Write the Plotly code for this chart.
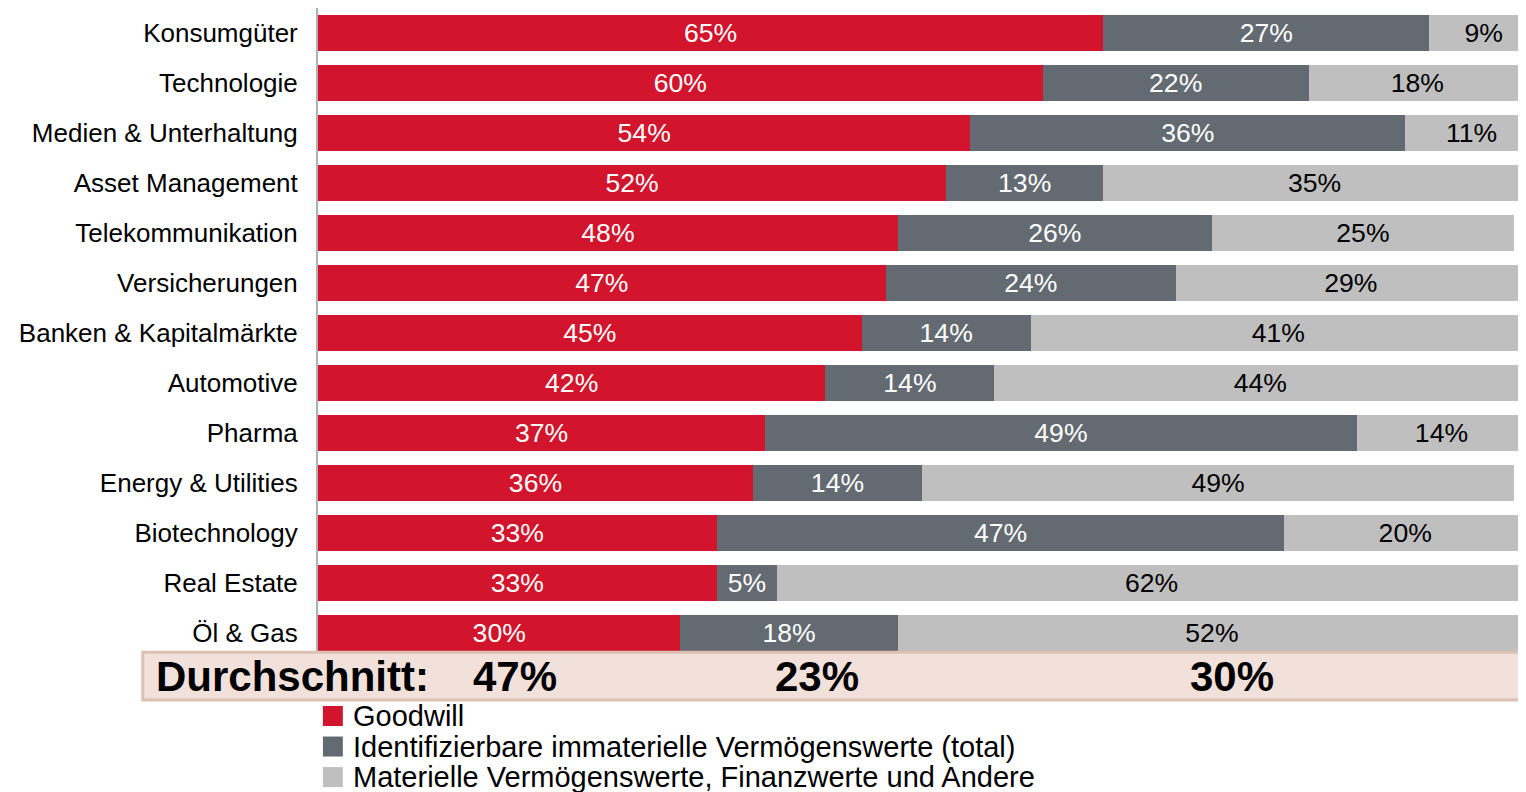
import plotly.graph_objects as go

# Branchen (oben nach unten)
branchen = [
    "Konsumgüter", "Technologie", "Medien & Unterhaltung", "Asset Management",
    "Telekommunikation", "Versicherungen", "Banken & Kapitalmärkte", "Automotive",
    "Pharma", "Energy & Utilities", "Biotechnology", "Real Estate", "Öl & Gas",
]
goodwill = [65, 60, 54, 52, 48, 47, 45, 42, 37, 36, 33, 33, 30]
immateriell = [27, 22, 36, 13, 26, 24, 14, 14, 49, 14, 47, 5, 18]
materiell = [9, 18, 11, 35, 25, 29, 41, 44, 14, 49, 20, 62, 52]
durchschnitt = [47, 23, 30]

serien = [
    ("Goodwill", goodwill, "#d2142c", "white"),
    ("Identifizierbare immaterielle Vermögenswerte (total)", immateriell, "#636a71", "white"),
    ("Materielle Vermögenswerte, Finanzwerte und Andere", materiell, "#bfbfbf", "black"),
]

FONT = "Liberation Sans, Arial, sans-serif"

fig = go.Figure()
for name, werte, farbe, textfarbe in serien:
    fig.add_trace(go.Bar(
        y=branchen, x=werte, name=name, orientation="h",
        marker=dict(color=farbe, line=dict(width=0)),
        text=[f"{v}%" for v in werte],
        textposition="inside", insidetextanchor="middle",
        textfont=dict(color=textfarbe, size=31, family=FONT),
        hovertemplate="%{y}: %{x}%<extra>" + name + "</extra>",
        showlegend=False,
    ))

# Durchschnitt-Zeile unter dem Diagramm
fig.add_shape(
    type="rect", xref="paper", yref="paper",
    x0=-0.146, x1=1.01, y0=0.009, y1=-0.0646,
    fillcolor="#f1e1da", line=dict(color="#dcc1b2", width=3), layer="above",
)
fig.add_annotation(
    xref="paper", yref="paper", x=-0.137, y=-0.029, xanchor="left", yanchor="middle",
    text="<b>Durchschnitt:</b>", showarrow=False,
    font=dict(size=42, color="black", family=FONT),
)
for xpos, wert in zip([16.3, 41.3, 75.7], durchschnitt):
    fig.add_annotation(
        xref="x", yref="paper", x=xpos, y=-0.029, yanchor="middle",
        text=f"<b>{wert}%</b>", showarrow=False,
        font=dict(size=42, color="black", family=FONT),
    )

# Legende (enge Zeilenabstände wie im Original)
leg_y0, leg_dy = -0.0892, -0.0470
for i, (name, _, farbe, _) in enumerate(serien):
    yc = leg_y0 + i * leg_dy
    fig.add_shape(
        type="rect", xref="paper", yref="paper",
        x0=0.0041, x1=0.0207, y0=yc - 0.0154, y1=yc + 0.0154,
        fillcolor=farbe, line=dict(width=0),
    )
    fig.add_annotation(
        xref="paper", yref="paper", x=0.0272, y=yc, xanchor="left", yanchor="middle",
        text=name, showarrow=False,
        font=dict(size=29, color="black", family=FONT),
    )

fig.update_layout(
    barmode="stack", bargap=0.28,
    width=1510, height=784,
    margin=dict(l=310, r=0, t=0, b=134, autoexpand=False),
    paper_bgcolor="white", plot_bgcolor="white",
    font=dict(family=FONT, color="black"),
    showlegend=False,
    # rechter Rand des Bildes schneidet die Balken knapp vor 100 % ab
    xaxis=dict(range=[0, 100 * 1200 / 1208], visible=False, fixedrange=True),
    yaxis=dict(
        categoryorder="array", categoryarray=branchen[::-1],
        showline=True, linecolor="#b0b0b0", linewidth=2,
        ticks="", ticklabelstandoff=13, automargin=False,
        tickfont=dict(size=26, color="black", family=FONT),
        showgrid=False,
    ),
)

fig.write_html("out.html")
